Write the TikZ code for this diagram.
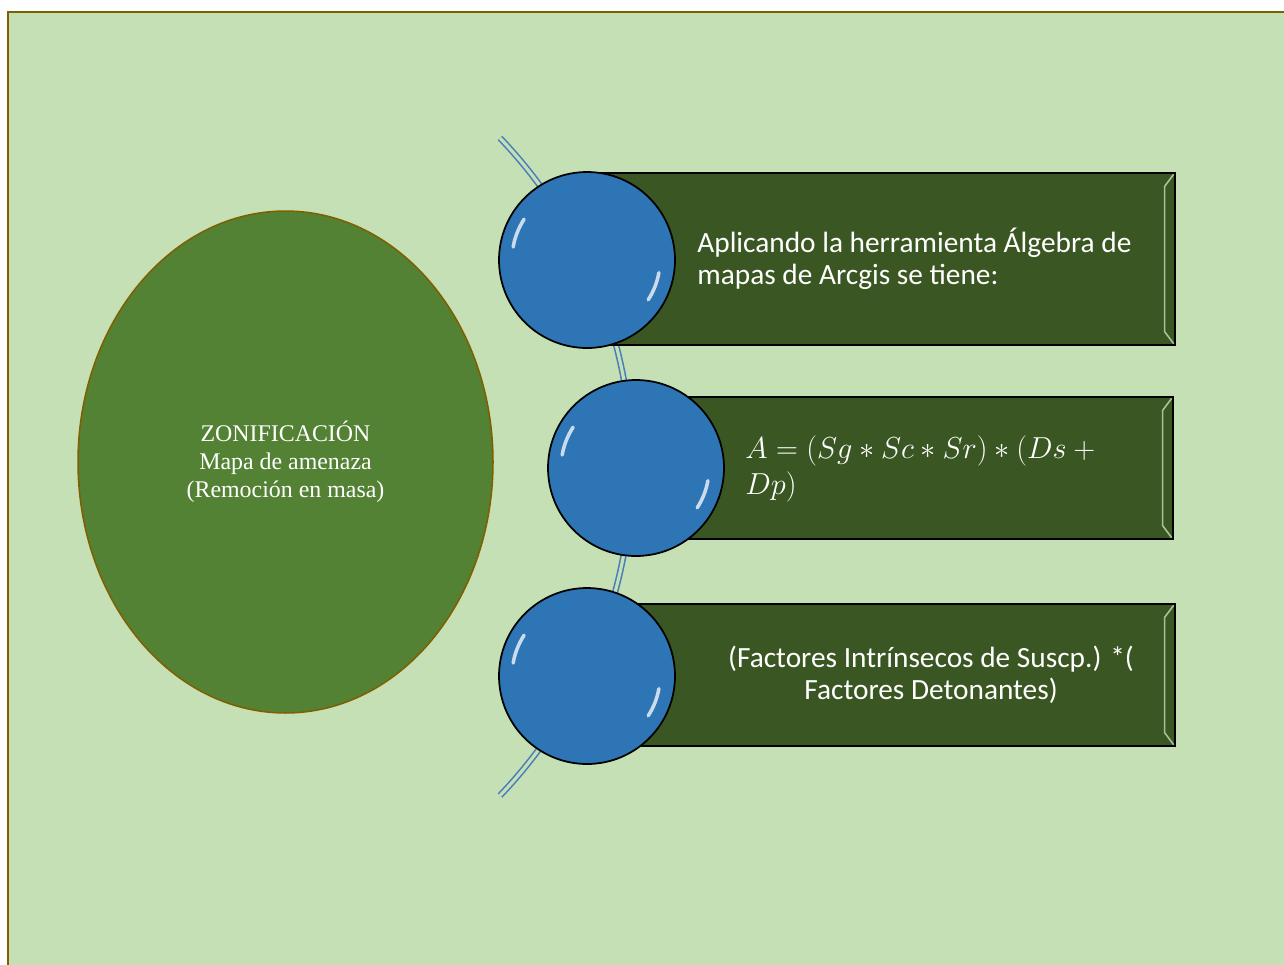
\documentclass[tikz,border=0pt]{standalone}
\usepackage{fontspec}
\setmainfont{Liberation Serif}
\newfontfamily\calib{Carlito}
\usetikzlibrary{shapes.geometric, calc}
\definecolor{mpage}{HTML}{C5E0B4}
\definecolor{mframe}{HTML}{7F6000}
\definecolor{mzone}{HTML}{548235}
\definecolor{mbox}{HTML}{3A5622}
\definecolor{mball}{HTML}{2E75B6}
\definecolor{marc}{HTML}{4A7EBB}
\definecolor{mbevel}{HTML}{A9C196}

\begin{document}
\begin{tikzpicture}[
    x=0.02cm, y=-0.02cm,
    zone/.style={ellipse, draw=mframe, fill=mzone, line width=0.9pt, minimum width=8.3cm, minimum height=10.04cm,
                 inner sep=0pt, text=white, align=center, font=\fontsize{13.6}{15.9}\selectfont},
    stepbox/.style={draw=black, fill=mbox, line width=0.8pt, minimum width=11.76cm, minimum height=2.84cm, inner sep=0pt},
    ball/.style={circle, draw=black, fill=mball, line width=1pt, minimum size=3.52cm, inner sep=0pt},
    gloss/.style={white, opacity=0.75, line width=2pt, line cap=round},
    bevel/.style={draw=mbevel, line width=0.9pt},
    arcline/.style={draw=marc, double=mpage, double distance=1.8pt, line width=0.9pt},
    txt/.style={text=white, font=\calib\fontsize{16.7}{18.2}\selectfont, align=left, inner sep=0pt},
  ]

  \useasboundingbox (0,0) rectangle (1284,964);
  \clip (0,0) rectangle (1284,964);
  \fill[white] (0,0) rectangle (1284,964);
  \filldraw[fill=mpage, draw=mframe, line width=1.7pt] (8,12) rectangle (1320,1000);

  % curved spine behind the balls
  \draw[arcline] (500,138) arc[start angle=43.7, end angle=-43.7, radius=9.52cm];

  \node[zone] (zone) at (285.5,462) {ZONIFICACIÓN\\Mapa de amenaza\\(Remoción en masa)};

  \node[stepbox, minimum height=3.44cm] (box1) at (881,259) {};
  \node[stepbox, minimum width=10.74cm] (box2) at (904.5,468) {};
  \node[stepbox] (box3) at (881,675) {};
  \foreach \b in {box1,box2,box3} {
    \draw[bevel] ($(\b.north east)+(-2,2)$) -- ($(\b.north east)+(-11,14)$) -- ($(\b.south east)+(-11,-14)$) -- ($(\b.south east)+(-2,-2)$);
  }

  \node[ball] (ball1) at (587,260) {};
  \node[ball] (ball2) at (636,468) {};
  \node[ball] (ball3) at (587,676) {};
  \foreach \b in {ball1,ball2,ball3} {
    \draw[gloss] (\b.center) ++(147:1.5cm) arc[start angle=147, end angle=170, radius=1.5cm];
    \draw[gloss] (\b.center) ++(-33:1.46cm) arc[start angle=-33, end angle=-10, radius=1.46cm];
  }

  \node[txt, anchor=west] (txt1) at (697,259) {Aplicando la herramienta Álgebra de\\mapas de Arcgis se tiene:};
  \node[txt, anchor=west, font=\fontsize{18.4}{20.5}\selectfont] (txt2) at (745,469) {$A = (Sg \ast Sc \ast Sr) \ast (Ds +{}$\\$Dp)$};
  \node[txt, align=center] (txt3) at (931,675) {(Factores Intrínsecos de Suscp.) *(\\Factores Detonantes)};

\end{tikzpicture}
\end{document}
